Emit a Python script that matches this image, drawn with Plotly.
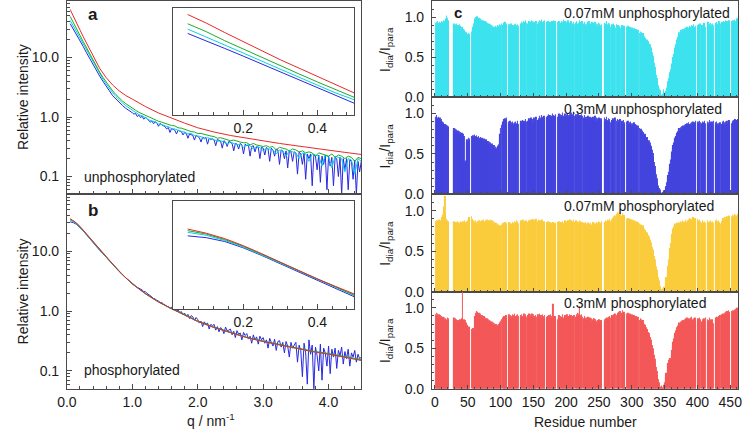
import plotly.graph_objects as go

N = None

# ---------------- SAXS data (panels a, b) ----------------
q_s = [0.05, 0.1, 0.15, 0.2, 0.25, 0.3, 0.35, 0.4, 0.45, 0.5, 0.6, 0.7, 0.8, 0.9, 1.0,
       1.2, 1.4, 1.6, 1.8, 2.0, 2.25, 2.5, 2.75, 3.0, 3.25, 3.5, 3.75, 4.0, 4.25, 4.5]

q_n = [0.05, 0.1, 0.15, 0.2, 0.25, 0.3, 0.35, 0.4, 0.45, 0.5,
       0.55, 0.6, 0.65, 0.7, 0.75, 0.8, 0.85, 0.9, 0.95, 1.0,
       1.05, 1.1, 1.15, 1.2, 1.25, 1.3, 1.35, 1.4, 1.45, 1.5,
       1.55, 1.6, 1.65, 1.7, 1.75, 1.8, 1.85, 1.9, 1.95, 2.0,
       2.05, 2.1, 2.15, 2.2, 2.25, 2.3, 2.35, 2.4, 2.45, 2.5,
       2.55, 2.6, 2.65, 2.7, 2.75, 2.8, 2.85, 2.9, 2.95, 3.0,
       3.05, 3.1, 3.15, 3.2, 3.25, 3.3, 3.35, 3.4, 3.45, 3.5,
       3.55, 3.6, 3.65, 3.7, 3.75, 3.8, 3.85, 3.9, 3.95, 4.0,
       4.05, 4.1, 4.15, 4.2, 4.25, 4.3, 4.35, 4.4, 4.45, 4.5]

q_f = [0.05, 0.1, 0.15, 0.2, 0.25, 0.3, 0.35, 0.4, 0.45, 0.5,
       0.55, 0.6, 0.65, 0.7, 0.75, 0.8, 0.85, 0.9, 0.95,
       1.0, 1.025, 1.05, 1.075, 1.1, 1.125, 1.15, 1.175, 1.2, 1.225,
       1.25, 1.275, 1.3, 1.325, 1.35, 1.375, 1.4, 1.425, 1.45, 1.475,
       1.5, 1.525, 1.55, 1.575, 1.6, 1.625, 1.65, 1.675, 1.7, 1.725,
       1.75, 1.775, 1.8, 1.825, 1.85, 1.875, 1.9, 1.925, 1.95, 1.975,
       2.0, 2.025, 2.05, 2.075, 2.1, 2.125, 2.15, 2.175, 2.2, 2.225,
       2.25, 2.275, 2.3, 2.325, 2.35, 2.375, 2.4, 2.425, 2.45, 2.475,
       2.5, 2.525, 2.55, 2.575, 2.6, 2.625, 2.65, 2.675, 2.7, 2.725,
       2.75, 2.775, 2.8, 2.825, 2.85, 2.875, 2.9, 2.925, 2.95, 2.975,
       3.0, 3.025, 3.05, 3.075, 3.1, 3.125, 3.15, 3.175, 3.2, 3.225,
       3.25, 3.275, 3.3, 3.325, 3.35, 3.375, 3.4, 3.425, 3.45, 3.475,
       3.5, 3.525, 3.55, 3.575, 3.6, 3.625, 3.65, 3.675, 3.7, 3.725,
       3.75, 3.775, 3.8, 3.825, 3.85, 3.875, 3.9, 3.925, 3.95, 3.975,
       4.0, 4.025, 4.05, 4.075, 4.1, 4.125, 4.15, 4.175, 4.2, 4.225,
       4.25, 4.275, 4.3, 4.325, 4.35, 4.375, 4.4, 4.425, 4.45, 4.475,
       4.5]

# panel a (unphosphorylated)
red_a = [64, 50, 38, 29, 22.3, 17.3, 13.6, 10.7, 8.4, 6.6, 4.6, 3.45, 2.75, 2.3, 2.0,
         1.5, 1.17, 0.95, 0.79, 0.66, 0.56, 0.49, 0.44, 0.40, 0.36, 0.33, 0.30, 0.28, 0.255, 0.235]
green_a = [49, 39, 30, 23.5, 18.5, 14.5, 11.5, 9.1, 7.2, 5.7,
           4.65, 3.85, 3.2, 2.75, 2.38, 2.08, 1.85, 1.68, 1.53, 1.41,
           1.3, 1.2, 1.13, 1.05, 1.0, 0.94, 0.9, 0.85, 0.82, 0.78,
           0.76, 0.72, 0.71, 0.66, 0.65, 0.62, 0.6, 0.57, 0.56, 0.53,
           0.53, 0.51, 0.49, 0.48, 0.47, 0.44, 0.45, 0.43, 0.42, 0.40,
           0.41, 0.39, 0.38, 0.37, 0.37, 0.34, 0.36, 0.34, 0.33, 0.32,
           0.33, 0.31, 0.32, 0.28, 0.31, 0.30, 0.29, 0.27, 0.29, 0.28,
           0.26, 0.27, 0.25, 0.26, 0.25, 0.22, 0.25, 0.24, 0.23, 0.22,
           0.24, 0.21, 0.23, 0.22, 0.2, 0.22, 0.21, 0.18, 0.21, 0.2]
cyan_a = [42, 33.5, 26.5, 21, 16.6, 13.1, 10.4, 8.3, 6.6, 5.3,
          4.35, 3.6, 3.0, 2.55, 2.2, 1.92, 1.72, 1.55, 1.42, 1.3,
          1.21, 1.1, 1.05, 0.97, 0.9, 0.86, 0.83, 0.76, 0.75, 0.71,
          0.69, 0.64, 0.63, 0.6, 0.57, 0.56, 0.52, 0.53, 0.49, 0.48,
          0.47, 0.43, 0.45, 0.43, 0.42, 0.39, 0.40, 0.38, 0.35, 0.38,
          0.36, 0.34, 0.35, 0.31, 0.34, 0.33, 0.29, 0.32, 0.31, 0.27,
          0.30, 0.29, 0.28, 0.24, 0.28, 0.27, 0.22, 0.27, 0.26, 0.25,
          0.2, 0.25, 0.24, 0.18, 0.24, 0.23, 0.22, 0.15, 0.23, 0.21,
          0.14, 0.22, 0.21, 0.2, 0.12, 0.2, 0.19, 0.11, 0.2, 0.18]
blue_a = [37, 30, 24, 19.2, 15.3, 12.0, 9.5, 7.6, 6.1, 4.9,
          4.0, 3.25, 2.75, 2.28, 2.0, 1.72, 1.56, 1.4, 1.3,
          1.18, 1.12, 1.15, 1.02, 1.08, 0.98, 1.03, 0.92, 0.99, 0.94,
          0.88, 0.82, 0.86, 0.77, 0.83, 0.8, 0.7, 0.78, 0.74, 0.71,
          0.69, 0.63, 0.67, 0.55, 0.64, 0.62, 0.6, 0.52, 0.6, 0.58,
          0.57, 0.5, 0.55, 0.53, 0.44, 0.52, 0.5, 0.49, 0.41, 0.49,
          0.47, 0.45, 0.38, 0.46, 0.44, 0.45, 0.35, 0.44, 0.42, 0.43,
          0.41, 0.33, 0.42, 0.4, 0.39, 0.3, 0.4, 0.38, 0.32, 0.39,
          0.37, 0.36, 0.27, 0.36, 0.35, 0.29, 0.36, 0.34, 0.24, 0.35,
          0.33, 0.34, 0.22, 0.32, 0.33, 0.26, 0.32, 0.31, 0.2, 0.31,
          0.3, 0.23, 0.31, 0.29, 0.18, 0.3, 0.28, 0.22, 0.29, 0.28,
          0.16, 0.28, 0.27, 0.2, 0.27, 0.14, 0.27, 0.26, 0.18, 0.26,
          0.25, 0.11, 0.26, 0.24, 0.16, 0.25, 0.09, 0.24, 0.2, 0.24,
          0.07, 0.23, 0.22, 0.13, 0.23, 0.08, 0.22, 0.16, 0.23, 0.06,
          0.22, 0.15, 0.21, 0.07, 0.21, 0.2, 0.1, 0.21, 0.05, 0.2,
          0.13, 0.2, 0.06, 0.19, 0.18, 0.09, 0.19, 0.05, 0.18, 0.12,
          0.18]

# panel b (phosphorylated)
red_b = [35, 32.5, 29.5, 26, 22.5, 19.3, 16.6, 14.3, 12.5, 10.8, 8.1, 6.1, 4.6, 3.6, 2.85,
         1.95, 1.42, 1.1, 0.87, 0.67, 0.53, 0.44, 0.36, 0.31, 0.27, 0.235, 0.21, 0.19, 0.17, 0.15]
green_b = [34, 32, 29, 25.7, 22.3, 19.2, 16.5, 14.2, 12.4, 10.7, 8.05, 6.05, 4.6, 3.6, 2.85,
           1.96, 1.43, 1.1, 0.88, 0.68, 0.54, 0.445, 0.365, 0.315, 0.275, 0.24, 0.215, 0.195, 0.175, 0.155]
cyan_b = [33, 31.3, 28.5, 25.3, 22, 19, 16.4, 14.1, 12.3, 10.65, 8.0, 6.0, 4.55, 3.57, 2.83,
          1.94, 1.41, 1.09, 0.86, 0.67, 0.53, 0.44, 0.36, 0.31, 0.27, 0.235, 0.21, 0.19, 0.17, 0.15]
blue_b = [31, 30, 28, 25, 21.8, 18.8, 16.1, 13.8, 12.0, 10.4,
          9.1, 7.9, 6.9, 6.0, 5.2, 4.55, 4.05, 3.6, 3.2,
          2.9, 2.7, 2.62, 2.5, 2.42, 2.3, 2.25, 2.12, 2.1, 1.98,
          1.9, 1.78, 1.72, 1.62, 1.6, 1.5, 1.48, 1.38, 1.4, 1.3,
          1.28, 1.18, 1.2, 1.1, 1.16, 1.05, 1.07, 0.98, 1.04, 0.94,
          0.98, 0.86, 0.92, 0.82, 0.88, 0.75, 0.84, 0.8, 0.7, 0.78,
          0.72, 0.63, 0.68, 0.55, 0.66, 0.6, 0.63, 0.5, 0.6, 0.57,
          0.6, 0.48, 0.55, 0.45, 0.53, 0.5, 0.42, 0.54, 0.47, 0.48,
          0.5, 0.4, 0.46, 0.36, 0.47, 0.41, 0.43, 0.33, 0.44, 0.39,
          0.42, 0.34, 0.38, 0.29, 0.4, 0.33, 0.37, 0.28, 0.38, 0.33,
          0.36, 0.29, 0.33, 0.24, 0.35, 0.3, 0.26, 0.34, 0.22, 0.31,
          0.32, 0.25, 0.3, 0.2, 0.31, 0.26, 0.17, 0.3, 0.24, 0.27,
          0.3, 0.14, 0.27, 0.22, 0.08, 0.29, 0.2, 0.06, 0.33, 0.19,
          0.27, 0.05, 0.25, 0.18, 0.1, 0.28, 0.07, 0.24, 0.2, 0.12,
          0.26, 0.09, 0.23, 0.17, 0.24, 0.11, 0.22, 0.18, 0.25, 0.13,
          0.21, 0.16, 0.23, 0.12, 0.2, 0.17, 0.22, 0.14, 0.19, 0.16,
          0.17]

# ---------------- PRE ratios (panel c) ----------------
residues = list(range(1, 463))

ratio_unphos_007 = [
    0.93, 0.94, 0.92, 0.95, 0.93, 0.91, 0.94, 0.92, 0.93, 0.95,
    0.94, 0.92, 0.96, 0.93, 0.95, 0.97, 0.98, 1.02, 0.99, 0.96,
    0.94, N, N, N, N, N, N, 0.91, 0.92, 0.90,
    0.91, 0.89, 0.92, 0.90, 0.88, 0.90, 0.91, 0.89, 0.87, 0.88,
    0.86, 0.88, 0.85, 0.83, 0.84, 0.82, 0.80, 0.81, 0.79, 0.78,
    0.80, 0.78, 0.79, N, N, 0.82, 0.85, 0.88, 0.92, 0.96,
    0.98, 1.00, 0.99, 1.01, 0.98, 0.97, 0.99, 0.96, 0.98, 0.95,
    0.97, 0.95, 0.96, 0.94, 0.93, 0.95, 0.92, 0.94, 0.91, 0.93,
    0.90, 0.92, 0.89, 0.91, 0.88, 0.90, 0.87, 0.89, 0.86, 0.88,
    0.87, 0.89, 0.86, 0.88, 0.90, 0.87, 0.89, 0.91, 0.88, 0.90,
    0.92, N, N, 0.90, 0.93, 0.91, 0.94, 0.92, 0.90, N,
    N, 0.89, 0.91, 0.88, 0.90, 0.92, 0.89, 0.87, 0.90, 0.88,
    0.91, 0.89, 0.92, 0.90, 0.88, 0.91, 0.89, N, N, 0.90,
    0.92, 0.94, 0.91, 0.93, 0.95, 0.92, 0.94, 0.96, 0.93, N,
    N, 0.92, 0.95, 0.93, 0.91, 0.94, 0.96, 0.93, 0.95, 0.92,
    0.94, 0.91, 0.93, 0.95, N, N, 0.92, 0.94, 0.96, 0.93,
    0.95, 0.97, 0.94, 0.92, 0.95, 0.93, 0.96, N, N, 0.94,
    0.92, 0.95, 0.93, 0.90, 0.94, 0.91, 0.93, 0.95, 0.92, 0.94,
    0.96, 0.93, 0.95, 0.91, N, N, 0.94, 0.92, 0.95, 0.93,
    0.90, 0.93, 0.95, 0.92, 0.94, 0.97, 0.93, 0.95, 0.92, 0.94,
    0.91, 0.94, 0.96, 0.93, 0.90, 0.93, 0.95, 0.92, 0.89, 0.92,
    0.94, 0.91, N, N, 0.93, 0.95, 0.92, 0.90, 0.93, 0.96,
    0.94, 0.91, 0.93, 0.95, N, N, 0.92, 0.94, 0.91, 0.89,
    0.92, 0.94, 0.90, 0.93, 0.95, 0.91, 0.88, 0.92, 0.94, 0.90,
    0.93, 0.89, 0.91, 0.94, 0.90, 0.92, 0.88, 0.91, 0.93, 0.89,
    0.92, 0.90, 0.87, 0.91, N, N, N, 0.93, 0.90, 0.92,
    0.95, 0.91, 0.89, 0.93, 0.90, 0.92, 0.88, N, N, 0.91,
    0.89, 0.92, 0.90, 0.87, N, N, 0.91, 0.88, 0.90, 0.86,
    0.89, 0.87, N, N, 0.90, 0.88, 0.86, 0.89, 0.87, N,
    N, 0.88, 0.86, 0.89, 0.87, 0.85, 0.88, 0.86, 0.84, 0.87,
    0.85, 0.83, 0.86, 0.84, 0.82, 0.85, 0.83, 0.81, 0.84, N,
    N, 0.80, 0.82, 0.79, 0.81, 0.78, 0.80, 0.77, 0.76, 0.74,
    0.73, 0.71, 0.72, 0.69, 0.70, 0.67, 0.65, 0.66, 0.62, 0.60,
    0.56, 0.52, 0.48, 0.43, 0.38, 0.33, 0.28, 0.24, 0.19, 0.15,
    0.11, 0.08, 0.05, 0.09, 0.03, 0.02, 0.04, 0.10, 0.06, 0.03,
    0.05, 0.08, 0.12, 0.16, 0.20, 0.24, 0.28, 0.31, 0.35, 0.38,
    0.42, 0.46, 0.50, 0.54, 0.58, 0.62, 0.66, 0.69, 0.72, 0.75,
    0.79, 0.81, 0.78, 0.82, 0.84, 0.80, 0.83, 0.85, 0.82, 0.86,
    0.84, 0.87, 0.85, 0.88, 0.86, 0.83, 0.87, 0.89, 0.86, 0.88,
    0.90, 0.87, 0.89, 0.91, 0.88, 0.86, 0.89, N, N, 0.90,
    0.88, 0.91, 0.89, 0.92, N, N, 0.90, 0.88, 0.91, 0.93,
    0.90, 0.88, N, N, 0.91, 0.94, 0.90, 0.92, 0.89, 0.93,
    0.91, 0.88, 0.92, 0.90, N, N, 0.93, 0.91, 0.94, 0.92,
    0.90, 0.93, 0.95, 0.92, N, N, 0.94, 0.91, 0.93, 0.95,
    0.92, 0.94, 0.96, 0.93, 0.95, 0.92, 0.94, 0.96, 0.93, N,
    N, 0.95, 0.93, 0.96, 0.94, 0.97, 0.95, 0.93, 0.96, 0.98,
    0.97, 0.99]

ratio_unphos_03 = [
    0.96, 0.98, 0.95, 0.93, 0.96, 0.94, 0.92, 0.95, 0.91, 0.93,
    0.90, 0.88, 0.89, 0.86, 0.87, 0.85, 0.86, 0.84, 0.85, 0.83,
    0.84, N, N, N, N, N, N, 0.80, 0.82, 0.79,
    0.81, 0.78, 0.80, 0.77, 0.79, 0.76, 0.78, 0.75, 0.77, 0.74,
    0.76, 0.73, 0.75, 0.72, 0.40, 0.38, 0.42, 0.65, 0.68, 0.66,
    0.70, 0.67, 0.69, N, N, 0.72, 0.70, 0.73, 0.71, 0.74,
    0.72, 0.70, 0.73, 0.71, 0.69, 0.72, 0.70, 0.68, 0.71, 0.69,
    0.67, 0.70, 0.68, 0.66, 0.69, 0.67, 0.65, 0.68, 0.66, 0.64,
    0.66, 0.63, 0.65, 0.62, 0.64, 0.61, 0.63, 0.60, 0.58, 0.61,
    0.57, 0.59, 0.56, 0.58, 0.55, 0.60, 0.62, 0.68, 0.75, 0.82,
    0.86, N, N, 0.90, 0.93, 0.91, 0.94, 0.92, 0.95, N,
    N, 0.90, 0.88, 0.91, 0.87, 0.89, 0.86, 0.90, 0.88, 0.85,
    0.89, 0.87, 0.90, 0.86, 0.88, 0.91, 0.87, N, N, 0.89,
    0.91, 0.88, 0.92, 0.90, 0.87, 0.91, 0.89, 0.93, 0.90, N,
    N, 0.91, 0.94, 0.89, 0.92, 0.95, 0.90, 0.93, 0.88, 0.92,
    0.95, 0.91, 0.93, 0.96, N, N, 0.92, 0.94, 0.97, 0.93,
    0.95, 0.98, 0.94, 0.96, 0.93, 0.97, 0.95, N, N, 0.96,
    0.94, 0.97, 0.99, 0.95, 0.98, 0.96, 0.94, 0.97, 1.00, 0.96,
    0.98, 0.95, 0.97, 0.99, N, N, 0.96, 0.98, 1.00, 0.97,
    0.99, 0.96, 0.98, 1.01, 0.97, 0.95, 0.98, 1.00, 0.96, 0.99,
    0.97, 1.00, 0.98, 0.95, 0.99, 0.97, 1.01, 0.98, 0.96, 0.99,
    1.02, 0.97, N, N, 0.99, 0.96, 0.98, 1.00, 0.97, 0.95,
    0.98, 0.96, 0.99, 0.97, N, N, 0.95, 0.98, 0.96, 0.93,
    0.96, 0.94, 0.97, 0.95, 0.92, 0.96, 0.94, 0.91, 0.95, 0.93,
    0.96, 0.92, 0.94, 0.97, 0.93, 0.95, 0.91, 0.94, 0.92, 0.95,
    0.93, 0.90, 0.94, 0.92, N, N, N, 0.95, 0.91, 0.93,
    0.96, 0.92, 0.90, 0.94, 0.91, 0.93, 0.89, N, N, 0.92,
    0.94, 0.90, 0.92, 0.95, N, N, 0.91, 0.93, 0.89, 0.92,
    0.90, 0.93, N, N, 0.91, 0.88, 0.92, 0.89, 0.87, N,
    N, 0.90, 0.88, 0.91, 0.87, 0.89, 0.86, 0.90, 0.88, 0.85,
    0.88, 0.86, 0.89, 0.85, 0.87, 0.84, 0.86, 0.83, 0.85, N,
    N, 0.82, 0.80, 0.81, 0.78, 0.79, 0.76, 0.77, 0.74, 0.75,
    0.72, 0.70, 0.71, 0.68, 0.66, 0.67, 0.63, 0.64, 0.60, 0.58,
    0.55, 0.51, 0.46, 0.40, 0.35, 0.30, 0.25, 0.20, 0.15, 0.11,
    0.08, 0.05, 0.03, 0.06, 0.02, 0.01, 0.03, 0.02, 0.05, 0.04,
    0.06, 0.10, 0.15, 0.19, 0.24, 0.28, 0.33, 0.38, 0.43, 0.48,
    0.53, 0.57, 0.61, 0.64, 0.67, 0.70, 0.72, 0.74, 0.76, 0.78,
    0.80, 0.82, 0.79, 0.83, 0.81, 0.84, 0.82, 0.85, 0.83, 0.86,
    0.84, 0.87, 0.85, 0.88, 0.86, 0.89, 0.87, 0.85, 0.88, 0.86,
    0.89, 0.87, 0.90, 0.88, 0.86, 0.89, 0.91, N, N, 0.88,
    0.90, 0.87, 0.91, 0.89, N, N, 0.88, 0.90, 0.86, 0.89,
    0.91, 0.88, N, N, 0.90, 0.87, 0.89, 0.92, 0.88, 0.90,
    0.87, 0.90, 0.88, 0.91, N, N, 0.89, 0.86, 0.90, 0.88,
    0.85, 0.88, 0.86, 0.89, N, N, 0.87, 0.90, 0.88, 0.91,
    0.89, 0.86, 0.90, 0.88, 0.91, 0.87, 0.89, 0.92, 0.90, N,
    N, 0.88, 0.91, 0.89, 0.92, 0.90, 0.93, 0.91, 0.89, 0.92,
    0.90, 0.93]

ratio_phos_007 = [
    0.87, 0.86, 0.88, 0.85, 0.87, 0.89, 0.86, 0.88, 0.87, 0.90,
    0.92, 0.95, 0.98, 1.05, 1.18, 0.96, 0.90, 0.87, 0.88, 0.86,
    0.87, N, N, N, N, N, N, 0.85, 0.87, 0.86,
    0.84, 0.86, 0.85, 0.87, 0.84, 0.86, 0.83, 0.85, 0.87, 0.84,
    0.86, 0.84, 0.87, 0.85, 0.88, 0.86, 0.84, 0.87, 0.85, 0.88,
    0.90, 0.92, 0.91, N, N, 0.93, 0.90, 0.88, 0.86, 0.87,
    0.85, 0.88, 0.86, 0.84, 0.87, 0.85, 0.88, 0.86, 0.84, 0.87,
    0.85, 0.88, 0.86, 0.89, 0.87, 0.85, 0.88, 0.86, 0.89, 0.87,
    0.86, 0.88, 0.85, 0.87, 0.89, 0.86, 0.88, 0.85, 0.87, 0.84,
    0.86, 0.83, 0.85, 0.82, 0.84, 0.81, 0.83, 0.80, 0.82, 0.81,
    0.83, N, N, 0.85, 0.82, 0.84, 0.86, 0.83, 0.85, N,
    N, 0.84, 0.86, 0.83, 0.85, 0.82, 0.84, 0.86, 0.83, 0.85,
    0.87, 0.84, 0.86, 0.88, 0.85, 0.87, 0.84, N, N, 0.86,
    0.88, 0.85, 0.87, 0.89, 0.86, 0.84, 0.87, 0.85, 0.88, N,
    N, 0.86, 0.88, 0.85, 0.87, 0.89, 0.86, 0.88, 0.90, 0.87,
    0.89, 0.86, 0.88, 0.90, N, N, 0.87, 0.89, 0.86, 0.88,
    0.85, 0.87, 0.89, 0.86, 0.84, 0.87, 0.85, N, N, 0.86,
    0.84, 0.87, 0.85, 0.83, 0.86, 0.84, 0.82, 0.85, 0.83, 0.86,
    0.84, 0.82, 0.85, 0.83, N, N, 0.86, 0.84, 0.87, 0.85,
    0.83, 0.86, 0.84, 0.87, 0.85, 0.83, 0.86, 0.88, 0.85, 0.87,
    0.84, 0.86, 0.88, 0.85, 0.87, 0.89, 0.86, 0.88, 0.85, 0.87,
    0.89, 0.86, N, N, 0.88, 0.85, 0.87, 0.84, 0.86, 0.88,
    0.85, 0.87, 0.84, 0.86, N, N, 0.85, 0.83, 0.86, 0.84,
    0.82, 0.85, 0.83, 0.86, 0.84, 0.82, 0.85, 0.83, 0.81, 0.84,
    0.86, 0.83, 0.85, 0.82, 0.84, 0.86, 0.83, 0.85, 0.87, 0.84,
    0.86, 0.83, 0.85, 0.87, N, N, N, 0.84, 0.86, 0.88,
    0.85, 0.87, 0.89, 0.86, 0.88, 0.90, 0.87, N, N, 0.89,
    0.91, 0.93, 0.90, 0.94, N, N, 0.96, 0.98, 0.95, 0.97,
    0.99, 0.96, N, N, 0.94, 0.97, 0.93, 0.95, 0.92, N,
    N, 0.90, 0.88, 0.91, 0.89, 0.87, 0.90, 0.88, 0.86, 0.89,
    0.87, 0.85, 0.88, 0.86, 0.84, 0.87, 0.85, 0.83, 0.86, N,
    N, 0.84, 0.82, 0.83, 0.81, 0.80, 0.82, 0.79, 0.78, 0.76,
    0.75, 0.74, 0.72, 0.73, 0.70, 0.68, 0.66, 0.64, 0.61, 0.58,
    0.55, 0.52, 0.48, 0.44, 0.40, 0.36, 0.31, 0.27, 0.22, 0.18,
    0.14, 0.10, 0.07, 0.05, 0.03, 0.02, 0.04, 0.03, 0.06, 0.02,
    0.04, 0.18, 0.10, 0.25, 0.32, 0.40, 0.47, 0.54, 0.60, 0.66,
    0.71, 0.75, 0.78, 0.80, 0.82, 0.84, 0.81, 0.83, 0.85, 0.82,
    0.86, 0.83, 0.85, 0.87, 0.84, 0.86, 0.88, 0.85, 0.87, 0.84,
    0.86, 0.89, 0.87, 0.85, 0.88, 0.86, 0.89, 0.91, 0.88, 0.90,
    0.87, 0.89, 0.92, 0.90, 0.88, 0.91, 0.89, N, N, 0.90,
    0.88, 0.86, 0.89, 0.87, N, N, 0.85, 0.88, 0.86, 0.84,
    0.87, 0.85, N, N, 0.88, 0.86, 0.84, 0.87, 0.85, 0.88,
    0.86, 0.84, 0.87, 0.85, N, N, 0.88, 0.86, 0.89, 0.87,
    0.85, 0.88, 0.86, 0.84, N, N, 0.87, 0.89, 0.91, 0.88,
    0.90, 0.92, 0.89, 0.91, 0.93, 0.90, 0.92, 0.94, 0.91, N,
    N, 0.93, 0.95, 0.92, 0.94, 0.96, 0.93, 0.95, 0.92, 0.94,
    0.96, 0.94]

ratio_phos_03 = [
    0.92, 0.94, 0.91, 0.93, 0.90, 0.92, 0.89, 0.91, 0.88, 0.90,
    0.87, 0.89, 0.86, 0.88, 0.85, 0.87, 0.84, 0.86, 0.88, 0.85,
    0.87, N, N, N, N, N, N, 0.86, 0.88, 0.85,
    0.87, 0.84, 0.86, 0.83, 0.85, 0.82, 0.84, 0.86, 0.83, 0.85,
    0.87, 1.20, 0.84, 0.86, 0.83, 0.85, 0.82, 0.80, 0.78, 0.79,
    0.76, 0.77, 0.75, N, N, 0.74, 0.72, 0.75, 0.73, 0.76,
    0.90, 0.94, 0.96, 0.93, 0.95, 0.92, 0.94, 0.91, 0.93, 0.90,
    0.88, 0.91, 0.89, 0.87, 0.90, 0.88, 0.86, 0.85, 0.87, 0.84,
    0.86, 0.83, 0.85, 0.82, 0.84, 0.81, 0.83, 0.80, 0.82, 0.79,
    0.81, 0.78, 0.80, 0.77, 0.79, 0.78, 0.80, 0.79, 0.82, 0.84,
    0.86, N, N, 0.88, 0.90, 0.87, 0.89, 0.91, 0.88, N,
    N, 0.90, 0.92, 0.89, 0.91, 0.88, 0.90, 0.92, 0.89, 0.91,
    0.93, 0.90, 0.88, 0.91, 0.89, 0.92, 0.90, N, N, 0.91,
    0.89, 0.92, 0.90, 0.88, 0.91, 0.93, 0.90, 0.92, 0.89, N,
    N, 0.91, 0.93, 0.90, 0.92, 0.89, 0.91, 0.93, 0.90, 0.92,
    0.90, 0.87, 0.91, 0.89, N, N, 0.92, 0.90, 0.93, 0.91,
    0.88, 0.91, 0.89, 0.92, 0.90, 0.87, 0.91, N, N, 0.89,
    0.87, 0.90, 0.88, 0.91, 0.89, 0.92, 0.90, 0.88, 0.91, 1.05,
    0.89, 0.87, 0.90, 0.88, N, N, 0.86, 0.89, 0.91, 0.88,
    0.90, 0.87, 0.89, 0.92, 0.88, 0.86, 0.89, 0.91, 0.88, 0.90,
    0.92, 0.89, 0.87, 0.90, 0.92, 0.88, 0.91, 0.89, 0.86, 0.90,
    0.88, 0.91, N, N, 0.89, 0.92, 0.94, 0.90, 0.93, 1.02,
    0.91, 0.88, 0.92, 0.89, N, N, 0.87, 0.90, 0.88, 0.85,
    0.88, 0.86, 0.89, 0.87, 0.84, 0.88, 0.85, 0.87, 0.83, 0.86,
    0.84, 0.87, 0.85, 0.82, 0.86, 0.84, 0.81, 0.85, 0.83, 0.86,
    0.84, 0.82, 0.85, 0.83, N, N, N, 0.86, 0.84, 0.87,
    0.85, 0.88, 0.86, 0.89, 0.87, 0.90, 0.88, N, N, 0.91,
    0.89, 0.92, 0.90, 0.93, N, N, 0.91, 0.94, 0.92, 0.95,
    0.93, 0.96, N, N, 0.94, 0.97, 0.93, 0.95, 0.92, N,
    N, 0.93, 0.91, 0.94, 0.92, 0.90, 0.93, 0.91, 0.89, 0.92,
    0.90, 0.88, 0.91, 0.89, 0.87, 0.90, 0.88, 0.86, 0.89, N,
    N, 0.85, 0.87, 0.84, 0.86, 0.83, 0.85, 0.82, 0.80, 0.79,
    0.77, 0.76, 0.74, 0.73, 0.70, 0.69, 0.66, 0.64, 0.61, 0.58,
    0.54, 0.50, 0.46, 0.42, 0.37, 0.32, 0.27, 0.22, 0.17, 0.12,
    0.08, 0.05, 0.03, 0.02, 0.04, 0.01, 0.02, 0.03, 0.05, 0.08,
    0.14, 0.20, 0.18, 0.25, 0.32, 0.36, 0.34, 0.38, 0.36, 0.42,
    0.48, 0.53, 0.58, 0.62, 0.66, 0.69, 0.72, 0.74, 0.76, 0.78,
    0.80, 0.82, 0.79, 0.83, 0.81, 0.84, 0.82, 0.85, 0.83, 0.86,
    0.84, 0.87, 0.85, 0.88, 0.86, 0.84, 0.87, 0.85, 0.88, 0.86,
    0.89, 0.86, 0.84, 0.87, 0.85, 0.88, 0.86, N, N, 0.84,
    0.87, 0.85, 0.88, 0.86, N, N, 0.83, 0.86, 0.84, 0.87,
    0.85, 0.88, N, N, 0.86, 0.83, 0.85, 0.88, 0.84, 0.86,
    0.83, 0.86, 0.84, 0.81, N, N, 0.85, 0.88, 0.86, 0.89,
    0.87, 0.90, 0.88, 0.91, N, N, 0.92, 0.89, 0.93, 0.91,
    0.94, 0.92, 0.95, 0.93, 0.96, 0.94, 0.97, 0.95, 0.93, N,
    N, 0.96, 0.94, 0.97, 0.95, 0.98, 0.96, 0.99, 0.97, 1.00,
    0.98, 1.00]

panel_c_labels = ["0.07mM unphosphorylated", "0.3mM unphosphorylated",
                  "0.07mM phosphorylated", "0.3mM phosphorylated"]
q_ticks = [0, 1, 2, 3, 4]
q_ticktext = ["0.0", "1.0", "2.0", "3.0", "4.0"]
log_ticks = [0.1, 1, 10]
log_ticktext = ["0.1", "1.0", "10.0"]
res_ticks = [0, 50, 100, 150, 200, 250, 300, 350, 400, 450]
ratio_ticks = [0, 0.5, 1.0]
ratio_ticktext = ["0.0", "0.5", "1.0"]

# ---------------- styling ----------------
W, H = 745, 442
FONT = "Liberation Sans, Arial, Helvetica, sans-serif"
AX = "#4a4a4a"
TXT = "#1a1a1a"
C_RED, C_GREEN, C_CYAN, C_BLUE = "rgb(232,40,40)", "rgb(30,170,40)", "rgb(0,210,230)", "rgb(40,40,225)"
BAR_COLORS = ["rgb(60,226,238)", "rgb(68,68,222)", "rgb(250,204,60)", "rgb(244,88,88)"]


def fx(p):
    return p / W


def fy(p):
    return 1 - p / H


fig = go.Figure()


def add_line(x, y, color, xa, ya):
    fig.add_trace(go.Scatter(x=x, y=y, mode="lines", line=dict(color=color, width=1),
                             xaxis=xa, yaxis=ya, showlegend=False, hoverinfo="skip"))


for xa, ya in [("x", "y"), ("x3", "y3")]:
    add_line(q_f, blue_a, C_BLUE, xa, ya)
    add_line(q_n, cyan_a, C_CYAN, xa, ya)
    add_line(q_n, green_a, C_GREEN, xa, ya)
    add_line(q_s, red_a, C_RED, xa, ya)
for xa, ya in [("x2", "y2"), ("x4", "y4")]:
    add_line(q_f, blue_b, C_BLUE, xa, ya)
    add_line(q_s, cyan_b, C_CYAN, xa, ya)
    add_line(q_s, green_b, C_GREEN, xa, ya)
    add_line(q_s, red_b, C_RED, xa, ya)

ratio_sets = [ratio_unphos_007, ratio_unphos_03, ratio_phos_007, ratio_phos_03]
for i, vals in enumerate(ratio_sets):
    fig.add_trace(go.Bar(x=residues, y=vals, marker=dict(color=BAR_COLORS[i], line=dict(width=0)),
                         xaxis="x%d" % (5 + i), yaxis="y%d" % (5 + i), showlegend=False,
                         hoverinfo="skip"))

base = dict(showline=True, linecolor=AX, linewidth=1, mirror=True, ticks="inside",
            tickcolor=AX, tickwidth=1, showgrid=False, zeroline=False,
            tickfont=dict(size=14, color=TXT, family=FONT))
log_minor = [0.06, 0.07, 0.08, 0.09, 0.2, 0.3, 0.4, 0.5, 0.6, 0.7, 0.8, 0.9,
             2, 3, 4, 5, 6, 7, 8, 9, 20, 30, 40, 50, 60, 70, 80]
qminor = dict(dtick=0.2, tick0=0, ticks="inside", ticklen=3, tickcolor=AX)
ylog = dict(base, type="log", range=[-1.3, 1.95], tickvals=log_ticks, ticktext=log_ticktext,
            ticklen=5, ticklabelstandoff=4,
            minor=dict(tickvals=log_minor, ticks="inside", ticklen=3, tickcolor=AX))

layout = dict(
    width=W, height=H, margin=dict(l=0, r=0, t=0, b=0),
    paper_bgcolor="white", plot_bgcolor="rgba(0,0,0,0)",
    font=dict(family=FONT, size=14, color=TXT),
    bargap=0.3, showlegend=False,
    xaxis=dict(base, domain=[fx(58), fx(358)], range=[0, 4.5], anchor="y", tickvals=q_ticks,
               showticklabels=False, ticklen=5, minor=qminor),
    yaxis=dict(ylog, domain=[fy(198), fy(1)], anchor="x"),
    xaxis2=dict(base, domain=[fx(58), fx(358)], range=[0, 4.5], anchor="y2", tickvals=q_ticks,
                ticktext=q_ticktext, ticklen=5, minor=qminor, ticklabeloverflow="allow"),
    yaxis2=dict(ylog, domain=[fy(396), fy(198)], anchor="x2"),
    xaxis3=dict(base, domain=[fx(166), fx(351)], range=[0.01, 0.5], anchor="y3",
                tickvals=[0.2, 0.4], ticktext=["0.2", "0.4"], ticklen=5,
                minor=dict(dtick=0.04, tick0=0, ticks="inside", ticklen=3, tickcolor=AX)),
    yaxis3=dict(base, type="log", domain=[fy(117), fy(8)], range=[0.545, 1.89], anchor="x3",
                ticks="", showticklabels=False),
    xaxis4=dict(base, domain=[fx(166), fx(351)], range=[0.01, 0.5], anchor="y4",
                tickvals=[0.2, 0.4], ticktext=["0.2", "0.4"], ticklen=5,
                minor=dict(dtick=0.04, tick0=0, ticks="inside", ticklen=3, tickcolor=AX)),
    yaxis4=dict(base, type="log", domain=[fy(315), fy(205)], range=[0.92, 1.76], anchor="x4",
                ticks="", showticklabels=False),
)

bounds = [1, 99, 198, 297, 396]
for i in range(4):
    k = 5 + i
    layout["xaxis%d" % k] = dict(base, domain=[fx(430), fx(742)], range=[-4.5, 461.9],
                                 anchor="y%d" % k, tickvals=res_ticks, ticklen=4,
                                 showticklabels=(i == 3), ticklabeloverflow="allow",
                                 minor=dict(dtick=10, tick0=0, ticks="inside", ticklen=2, tickcolor=AX))
    layout["yaxis%d" % k] = dict(base, domain=[fy(bounds[i + 1]), fy(bounds[i])], range=[0, 1.2],
                                 anchor="x%d" % k, tickvals=ratio_ticks, ticktext=ratio_ticktext,
                                 ticklen=4, ticklabelstandoff=4,
                                 minor=dict(dtick=0.1, tick0=0, ticks="inside", ticklen=2, tickcolor=AX))

fig.update_layout(**layout)

anns = []


def ann(text, xp, yp, xanchor="center", size=14, angle=0):
    anns.append(dict(text=text, x=fx(xp), y=fy(yp), xref="paper", yref="paper",
                     xanchor=xanchor, yanchor="middle", showarrow=False, textangle=angle,
                     font=dict(size=size, color=TXT, family=FONT)))


ann("<b>a</b>", 85, 15, size=17)
ann("<b>b</b>", 85, 214, size=17)
ann("<b>c</b>", 457, 13, size=15)
ann("unphosphorylated", 73, 180, xanchor="left")
ann("phosphorylated", 73, 377, xanchor="left")
ann("Relative intensity", 13, 99, angle=-90)
ann("Relative intensity", 13, 297, angle=-90)
ann("q / nm<sup>-1</sup>", 205, 428)
ann("Residue number", 587, 430)
for i, lab in enumerate(panel_c_labels):
    top = bounds[i]
    ann(lab, 563, top + 12, xanchor="left")
    ann("I<sub>dia</sub>/I<sub>para</sub>", 383, (bounds[i] + bounds[i + 1]) / 2, angle=-90)

fig.update_layout(annotations=anns)

fig.write_html("out.html", include_plotlyjs=True, full_html=True,
               config={"displayModeBar": False},
               post_script="document.body.style.margin='0';")
